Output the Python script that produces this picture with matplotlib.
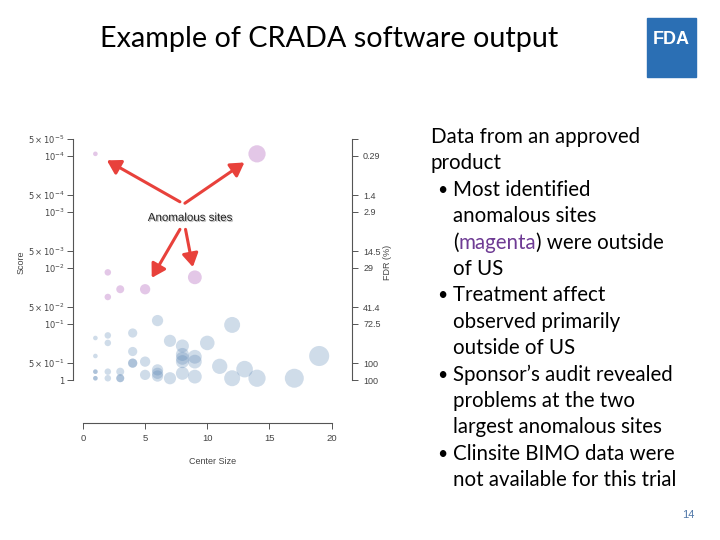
import numpy as np
import matplotlib
matplotlib.use("Agg")
import matplotlib.pyplot as plt
import matplotlib.patheffects as pe
from matplotlib.patches import Rectangle
from matplotlib.ticker import NullLocator, FixedLocator

# ---- data ----
# regular sites: (center size, score)
blue_x = [1, 1, 1, 1, 1, 1,
          2, 2, 2, 2,
          3, 3, 3,
          4, 4, 4, 4,
          5, 5,
          6, 6, 6, 6,
          7, 7,
          8, 8, 8, 8, 8,
          9, 9, 9,
          10, 11, 12, 12, 13, 14, 17, 19]
blue_score = [0.178, 0.373, 0.71, 0.71, 0.93, 0.93,
              0.16, 0.218, 0.71, 0.93,
              0.71, 0.93, 0.93,
              0.145, 0.31, 0.50, 0.50,
              0.47, 0.81,
              0.087, 0.66, 0.76, 0.85,
              0.20, 0.93,
              0.247, 0.35, 0.41, 0.47, 0.76,
              0.385, 0.47, 0.87,
              0.218, 0.57, 0.104, 0.93, 0.64, 0.93, 0.93, 0.373]

# anomalous sites (magenta)
pink_x = [1, 14, 2, 2, 3, 5, 9]
pink_score = [9.2e-5, 9.2e-5, 0.012, 0.033, 0.024, 0.024, 0.0147]

score_ticks = [5e-5, 1e-4, 5e-4, 1e-3, 5e-3, 1e-2, 5e-2, 1e-1, 5e-1, 1]
score_labels = [r'$5\times10^{-5}$', r'$10^{-4}$', r'$5\times10^{-4}$', r'$10^{-3}$',
                r'$5\times10^{-3}$', r'$10^{-2}$', r'$5\times10^{-2}$', r'$10^{-1}$',
                r'$5\times10^{-1}$', '1']
fdr_labels = ['', '0.29', '1.4', '2.9', '14.5', '29', '41.4', '72.5', '100', '100']
x_ticks = [0, 5, 10, 15, 20]

bullets = [
    ("", ["Data from an approved", "product"]),
    ("•", ["Most identified", "anomalous sites", None, "of US"]),
    ("•", ["Treatment affect", "observed primarily", "outside of US"]),
    ("•", ["Sponsor’s audit revealed", "problems at the two", "largest anomalous sites"]),
    ("•", ["Clinsite BIMO data were", "not available for this trial"]),
]

W, H = 720, 540
fig = plt.figure(figsize=(7.2, 5.4), dpi=100)
renderer = fig.canvas.get_renderer()
slide_font = ['Lato', 'DejaVu Sans']
chart_font = ['Liberation Sans', 'DejaVu Sans']
axis_grey = '#555555'
label_grey = '#444444'


def fit_size(text, family, size, target_px):
    # scale a font size so that the text spans target_px
    t = fig.text(0, 0, text, fontsize=size, family=family)
    w = t.get_window_extent(renderer).width
    t.remove()
    return size * target_px / w


# title
title_fs = fit_size("Example of CRADA software output", slide_font, 20, 457)
fig.text(100 / W, 1 - 39 / H, "Example of CRADA software output",
         fontsize=title_fs, family=slide_font, va='center', ha='left', color='black')

# FDA logo
fig.patches.append(Rectangle((647 / W, 1 - 77 / H), 49 / W, 59 / H,
                             transform=fig.transFigure, color='#2b6fb4', zorder=1))
fig.text(671.5 / W, 1 - 40 / H, "FDA", color='white', fontsize=13, weight='bold',
         family=chart_font, ha='center', va='center', zorder=2)

# ---- chart ----
ax = fig.add_axes([73 / W, 1 - 385 / H, 279 / W, 246 / H])
ax.set_yscale('log')
ax.set_ylim(1.228, 5e-5)
ax.set_xlim(-0.8, 21.64)
ax.patch.set_alpha(0)

ax.scatter(blue_x, blue_score, s=[11 * v for v in blue_x], color='#5682b2',
           alpha=0.28, linewidths=0, clip_on=False, zorder=3)
ax.scatter(pink_x, pink_score, s=[11 * v for v in pink_x], color='#a448b0',
           alpha=0.3, linewidths=0, clip_on=False, zorder=3)

for side in ['top', 'right']:
    ax.spines[side].set_visible(False)
ax.spines['left'].set_bounds(5e-5, 1)
ax.spines['bottom'].set_position(('outward', 27))
ax.spines['bottom'].set_bounds(0, 20)
for side in ['left', 'bottom']:
    ax.spines[side].set_color(axis_grey)
    ax.spines[side].set_linewidth(0.8)

ax.yaxis.set_major_locator(FixedLocator(score_ticks))
ax.yaxis.set_minor_locator(NullLocator())
ax.set_yticklabels(score_labels)
ax.set_xticks(x_ticks)
ax.tick_params(axis='y', colors=axis_grey, labelcolor=label_grey, labelsize=6,
               length=4, width=0.7, pad=2)
ax.tick_params(axis='x', colors=axis_grey, labelcolor=label_grey, labelsize=6.8,
               length=4, width=0.7, pad=4)
for t in ax.get_xticklabels():
    t.set_family(chart_font)
ax.set_xlabel("Center Size", fontsize=6.5, color=label_grey, family=chart_font, labelpad=10)
ax.set_ylabel("Score", fontsize=6.5, color=label_grey, family=chart_font, labelpad=2)

ax2 = ax.twinx()
ax2.set_yscale('log')
ax2.set_ylim(1.228, 5e-5)
for side in ['top', 'left', 'bottom']:
    ax2.spines[side].set_visible(False)
ax2.spines['right'].set_bounds(5e-5, 1)
ax2.spines['right'].set_color(axis_grey)
ax2.spines['right'].set_linewidth(0.8)
ax2.yaxis.set_major_locator(FixedLocator(score_ticks))
ax2.yaxis.set_minor_locator(NullLocator())
ax2.set_yticklabels(fdr_labels)
ax2.tick_params(axis='y', colors=axis_grey, labelcolor=label_grey, labelsize=6.5,
                length=4, width=0.7, pad=4)
for t in ax2.get_yticklabels():
    t.set_family(chart_font)
ax2.set_ylabel("FDR (%)", fontsize=6.5, color=label_grey, family=chart_font, labelpad=2)

# annotation
label_xy = (8.6, 1.28e-3)
ax.text(*label_xy, "Anomalous sites", fontsize=8.3, family=chart_font, ha='center',
        va='center', color='#222222', zorder=6,
        path_effects=[pe.withSimplePatchShadow(offset=(0.8, -0.8), shadow_rgbFace='#888888',
                                               alpha=0.6)])
arrow_tails = [(7.8, 6.6e-4), (8.2, 7.0e-4), (7.8, 2.05e-3), (8.25, 2.05e-3)]
arrow_heads = [(1, 9.2e-5), (14, 9.2e-5), (5, 0.024), (9, 0.0147)]
arrow_gap = [9.5, 11, 9.5, 7.5]
for tail, head, gap in zip(arrow_tails, arrow_heads, arrow_gap):
    ax.annotate("", xy=head, xytext=tail,
                arrowprops=dict(arrowstyle='-|>,head_length=0.5,head_width=0.3',
                                color='#e8413b', lw=2.2, mutation_scale=16,
                                shrinkA=0, shrinkB=gap),
                zorder=5)

# ---- right hand text ----
line_y = 137
step = 26.4
fs = fit_size("not available for this trial", slide_font, 13, 224)
for marker, lines in bullets:
    x_text = 431 if marker == "" else 453
    if marker:
        fig.text(437 / W, 1 - line_y / H, marker, fontsize=fs * 0.85, family=slide_font,
                 ha='left', va='center')
    for ln in lines:
        if ln is None:
            t1 = fig.text(x_text / W, 1 - line_y / H, "(", fontsize=fs, family=slide_font,
                          ha='left', va='center')
            bb = t1.get_window_extent(renderer)
            t2 = fig.text(bb.x1 / W, 1 - line_y / H, "magenta", fontsize=fs,
                          family=slide_font, ha='left', va='center', color='#6e3b94')
            bb = t2.get_window_extent(renderer)
            fig.text(bb.x1 / W, 1 - line_y / H, ") were outside", fontsize=fs,
                     family=slide_font, ha='left', va='center')
        else:
            fig.text(x_text / W, 1 - line_y / H, ln, fontsize=fs, family=slide_font,
                     ha='left', va='center')
        line_y += step

fig.text(688 / W, 1 - 515 / H, "14", fontsize=8, color='#4f77a8', family=chart_font,
         ha='center', va='center')

fig.savefig("out.png", dpi=100)
